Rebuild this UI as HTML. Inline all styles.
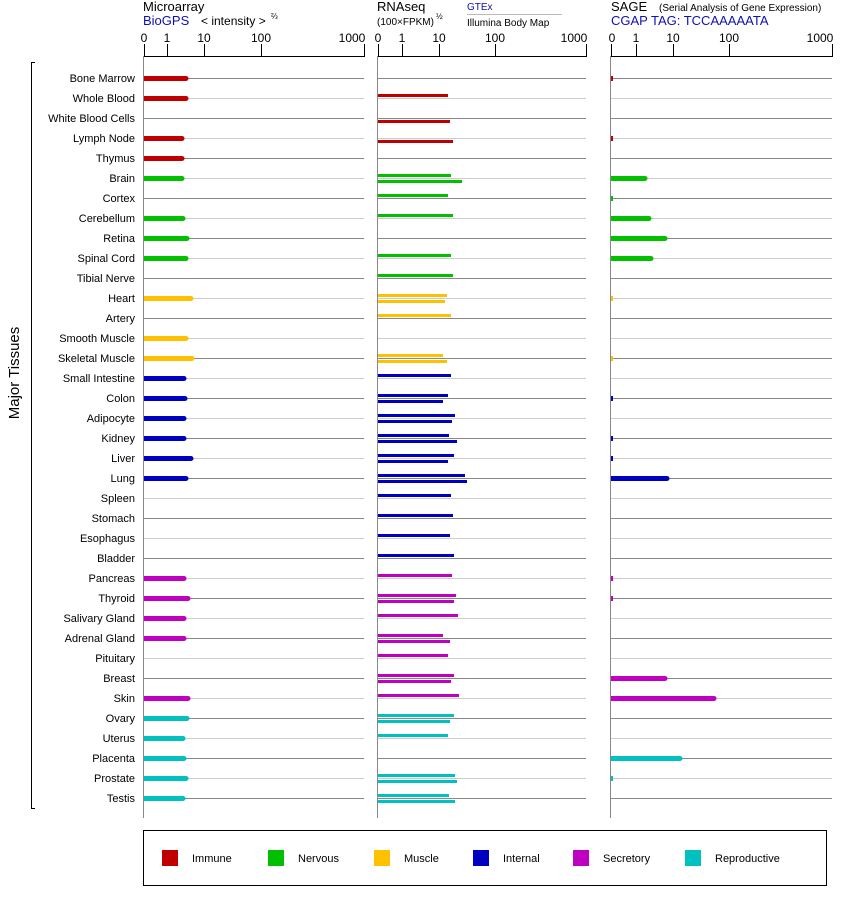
<!DOCTYPE html>
<html><head><meta charset="utf-8"><style>
body{margin:0;background:#fff;}
svg{display:block;font-family:"Liberation Sans",Arial,sans-serif;}
</style></head><body>
<svg id="s" width="842" height="900" xmlns="http://www.w3.org/2000/svg">
<g font-size="13" fill="#000">
<text x="143" y="11">Microarray</text>
<text x="143" y="25" fill="#1010b0">BioGPS</text>
<text x="201" y="25" font-size="12">&lt; intensity &gt;</text>
<text x="271" y="19" font-size="8">⅔</text>
<text x="377" y="11">RNAseq</text>
<text x="377" y="25" font-size="10">(100×FPKM)</text>
<text x="436" y="19" font-size="8">½</text>
<text x="467" y="10" font-size="10" fill="#1010b0">GTEx</text>
<line x1="467" y1="14.5" x2="562" y2="14.5" stroke="#bbb"/>
<text x="467" y="26" font-size="10">Illumina Body Map</text>
<text x="611" y="11">SAGE</text>
<text x="659" y="11" font-size="10">(Serial Analysis of Gene Expression)</text>
<text x="611" y="25" fill="#1010b0">CGAP TAG: TCCAAAAATA</text>
</g>
<g font-size="12" text-anchor="middle">
<text x="144" y="42">0</text><text x="167" y="42">1</text><text x="204" y="42">10</text><text x="261" y="42">100</text><text x="352" y="42">1000</text>
<text x="378" y="42">0</text><text x="402" y="42">1</text><text x="439" y="42">10</text><text x="495" y="42">100</text><text x="574" y="42">1000</text>
<text x="612" y="42">0</text><text x="636" y="42">1</text><text x="673" y="42">10</text><text x="729" y="42">100</text><text x="820" y="42">1000</text>
</g>
<g font-size="11" text-anchor="end">
<text x="135" y="82">Bone Marrow</text><text x="135" y="102">Whole Blood</text><text x="135" y="122">White Blood Cells</text><text x="135" y="142">Lymph Node</text><text x="135" y="162">Thymus</text><text x="135" y="182">Brain</text><text x="135" y="202">Cortex</text><text x="135" y="222">Cerebellum</text><text x="135" y="242">Retina</text><text x="135" y="262">Spinal Cord</text><text x="135" y="282">Tibial Nerve</text><text x="135" y="302">Heart</text><text x="135" y="322">Artery</text><text x="135" y="342">Smooth Muscle</text><text x="135" y="362">Skeletal Muscle</text><text x="135" y="382">Small Intestine</text><text x="135" y="402">Colon</text><text x="135" y="422">Adipocyte</text><text x="135" y="442">Kidney</text><text x="135" y="462">Liver</text><text x="135" y="482">Lung</text><text x="135" y="502">Spleen</text><text x="135" y="522">Stomach</text><text x="135" y="542">Esophagus</text><text x="135" y="562">Bladder</text><text x="135" y="582">Pancreas</text><text x="135" y="602">Thyroid</text><text x="135" y="622">Salivary Gland</text><text x="135" y="642">Adrenal Gland</text><text x="135" y="662">Pituitary</text><text x="135" y="682">Breast</text><text x="135" y="702">Skin</text><text x="135" y="722">Ovary</text><text x="135" y="742">Uterus</text><text x="135" y="762">Placenta</text><text x="135" y="782">Prostate</text><text x="135" y="802">Testis</text>
</g>
<text transform="translate(19,373) rotate(-90)" font-size="15" text-anchor="middle">Major Tissues</text>
<path d="M35,62.5H31.5V808.5H35" fill="none" stroke="#000"/>
<rect x="143.5" y="830.5" width="683" height="55" fill="none" stroke="#000"/>
<g font-size="11">
<rect x="162" y="850" width="16" height="16" fill="#c00000"/><text x="192" y="862">Immune</text>
<rect x="268" y="850" width="16" height="16" fill="#00c000"/><text x="298" y="862">Nervous</text>
<rect x="374" y="850" width="16" height="16" fill="#ffc000"/><text x="404" y="862">Muscle</text>
<rect x="473" y="850" width="16" height="16" fill="#0000c0"/><text x="503" y="862">Internal</text>
<rect x="573" y="850" width="16" height="16" fill="#c000c0"/><text x="603" y="862">Secretory</text>
<rect x="685" y="850" width="16" height="16" fill="#00c0c0"/><text x="715" y="862">Reproductive</text>
</g>
<g id="g"></g>
</svg>
<script>
var g=document.getElementById('g'),h='';
function L(x1,y1,x2,y2,c,w){h+='<line x1="'+x1+'" y1="'+y1+'" x2="'+x2+'" y2="'+y2+'" stroke="'+c+'" stroke-width="'+(w||1)+'"/>';}
function R(x,y,w,hh,c){h+='<rect x="'+x+'" y="'+y+'" width="'+w+'" height="'+hh+'" fill="'+c+'"/>';}
var P=[[144,364,[167,204,261]],[378,586,[402,439,495]],[611,832,[636,673,729]]];
for(var i=0;i<37;i++){var y=78+20*i+0.5;var c=i%2?'#cccccc':'#888888';P.forEach(function(p){L(p[0],y,p[1],y,c);});}
P.forEach(function(p){L(p[0]-0.5,56.5,p[1]+0.5,56.5,'#000');[p[0],p[1]].concat(p[2]).forEach(function(x){L(x+0.5,44,x+0.5,57,'#000');});L(p[0]-0.5,57,p[0]-0.5,818,'#888');});
var C={r:'#c00000',g:'#00c000',y:'#ffc000',b:'#0000c0',m:'#c000c0',c:'#00c0c0'};
var cat='rrrrr'+'gggggg'+'yyyy'+'bbbbbbbbbb'+'mmmmmmm'+'ccccc';
var MA=[188,188,0,184,184,184,0,185,189,188,0,193,0,188,194,186,187,186,186,193,188,0,0,0,0,186,190,186,186,0,0,190,189,185,186,188,185];
var A=[0,448,0,0,0,451,448,453,0,451,453,447,451,0,443,451,448,455,449,454,465,451,453,450,454,452,456,458,443,448,454,459,454,448,0,455,449];
var B=[0,0,450,453,0,462,0,0,0,0,0,445,0,0,447,0,443,452,457,448,467,0,0,0,0,0,454,0,450,0,451,0,450,0,0,457,455];
var S=[613,0,0,613,0,647,613,651,667,653,0,613,0,0,613,0,613,0,613,613,669,0,0,0,0,613,613,0,0,0,667,716,0,0,682,613,0];
for(var i=0;i<37;i++){var y=78+20*i,col=C[cat[i]];
if(MA[i])R(144,y-2,MA[i]-146,5,col),h+='<circle cx="'+(MA[i]-2)+'" cy="'+(y+0.5)+'" r="2.5" fill="'+col+'"/>';
if(A[i])R(378,y-4,A[i]-378,3,col);
if(B[i])R(378,y+2,B[i]-378,3,col);
if(S[i]){if(S[i]<620)R(611,y-2,2,5,col);else R(611,y-2,S[i]-613,5,col),h+='<circle cx="'+(S[i]-2)+'" cy="'+(y+0.5)+'" r="2.5" fill="'+col+'"/>';}
}
g.innerHTML=h;
</script>
</body></html>
